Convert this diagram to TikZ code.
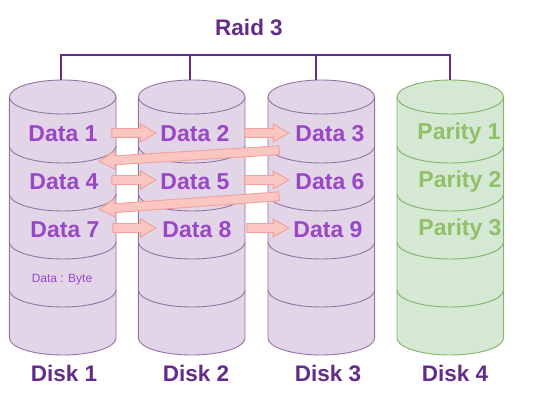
\documentclass[tikz,border=0pt]{standalone}
\usepackage{fontspec}
\setmainfont{Liberation Sans}
\usetikzlibrary{shapes.arrows}
\definecolor{pfill}{HTML}{E1D5E7}
\definecolor{pline}{HTML}{9673A6}
\definecolor{gfill}{HTML}{D5E8D4}
\definecolor{gline}{HTML}{82B366}
\definecolor{datatxt}{HTML}{9B45C9}
\definecolor{partxt}{HTML}{90C06A}
\definecolor{dark}{HTML}{632C8A}
\definecolor{afill}{HTML}{FAC6C2}
\definecolor{aline}{HTML}{F2A09A}
\newcommand{\mycyl}[4]{%
  \fill[#2] (#1-53.3,-97) -- (#1-53.3,-338)
    arc[start angle=180,end angle=360,x radius=53.3,y radius=17]
    -- (#1+53.3,-97)
    arc[start angle=0,end angle=180,x radius=53.3,y radius=17] -- cycle;
  \draw[#3,line width=0.9pt] (#1-53.3,-97) -- (#1-53.3,-338)
    arc[start angle=180,end angle=360,x radius=53.3,y radius=17]
    -- (#1+53.3,-97)
    arc[start angle=0,end angle=180,x radius=53.3,y radius=17];
  \foreach \yy in {97,146,194,242,290}
    \draw[#3,line width=0.9pt] (#1-53.3,-\yy)
      arc[start angle=180,end angle=360,x radius=53.3,y radius=17];
  \coordinate (#4) at (#1,-80);
}
\begin{document}
\begin{tikzpicture}[x=1pt,y=1pt,
  datalbl/.style={font=\bfseries\fontsize{23}{26}\selectfont,text=datatxt,inner sep=0},
  parlbl/.style={font=\bfseries\fontsize{23}{26}\selectfont,text=partxt,inner sep=0},
  disklbl/.style={font=\bfseries\fontsize{22.5}{26}\selectfont,text=dark,inner sep=0},
  blockarrow/.style={single arrow,draw=aline,fill=afill,line width=0.9pt,
    minimum width=17pt,single arrow head extend=4.5pt,inner xsep=0pt,inner ysep=4pt,
    single arrow tip angle=60,single arrow head indent=0pt,anchor=center},
  bus/.style={draw=dark,line width=1.8pt}]
\useasboundingbox[fill=white] (0,0) rectangle (534,-403);
\mycyl{62.7}{pfill}{pline}{d1}
\mycyl{191.7}{pfill}{pline}{d2}
\mycyl{321.3}{pfill}{pline}{d3}
\mycyl{450.3}{gfill}{gline}{d4}
% title and bus
\node[disklbl] (title) at (249,-27) {Raid 3};
\coordinate (b1) at (61,-55);
\coordinate (b2) at (190,-55);
\coordinate (b3) at (316,-55);
\coordinate (b4) at (450,-55);
\coordinate (t1) at (61,-80);
\coordinate (t2) at (190,-80);
\coordinate (t3) at (316,-80);
\coordinate (t4) at (450,-80);
\draw[bus] (t1) -- (b1) -- (b4) -- (t4);
\draw[bus] (b2) -- (t2);
\draw[bus] (b3) -- (t3);
% data labels
\node[datalbl] (x1) at (63,-134) {Data 1};
\node[datalbl] (x2) at (195,-134) {Data 2};
\node[datalbl] (x3) at (330,-134) {Data 3};
\node[datalbl] (x4) at (64,-182) {Data 4};
\node[datalbl] (x5) at (195,-182) {Data 5};
\node[datalbl] (x6) at (330,-182) {Data 6};
\node[datalbl] (x7) at (65,-230) {Data 7};
\node[datalbl] (x8) at (197,-230) {Data 8};
\node[datalbl] (x9) at (328,-230) {Data 9};
\node[parlbl] (p1) at (459,-134) {Parity 1};
\node[parlbl] (p2) at (460,-182) {Parity 2};
\node[parlbl] (p3) at (460,-230) {Parity 3};
\node[text=datatxt,font=\fontsize{12}{14}\selectfont,inner sep=0] (byte) at (62,-280) {Data : Byte};
% disk labels
\node[disklbl] (k1) at (64,-373) {Disk 1};
\node[disklbl] (k2) at (196,-373) {Disk 2};
\node[disklbl] (k3) at (328,-373) {Disk 3};
\node[disklbl] (k4) at (455,-373) {Disk 4};
% arrows
\node[blockarrow,minimum height=44pt] (a12) at (130,-133) {};
\node[blockarrow,minimum height=44pt] (a23) at (263,-133) {};
\node[blockarrow,minimum height=44pt] (a45) at (130,-180) {};
\node[blockarrow,minimum height=44pt] (a56) at (263,-180) {};
\node[blockarrow,minimum height=43pt] (a78) at (130.5,-228) {};
\node[blockarrow,minimum height=42pt] (a89) at (264,-228) {};
\node[blockarrow,minimum height=180.5pt,rotate=183.5] (r34) at (193,-155.5) {};
\node[blockarrow,minimum height=180.5pt,rotate=184.1] (r67) at (193,-202.5) {};
\end{tikzpicture}
\end{document}
